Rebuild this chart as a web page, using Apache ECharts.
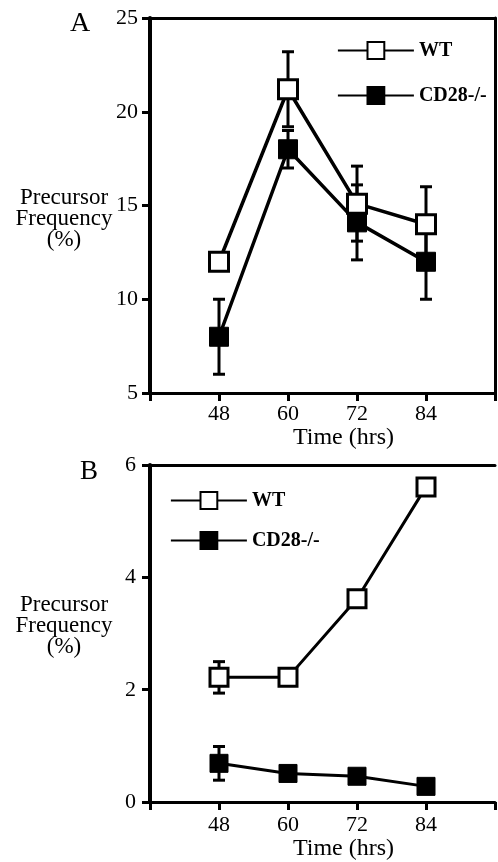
<!DOCTYPE html>
<html>
<head>
<meta charset="utf-8">
<script src="https://cdn.jsdelivr.net/npm/echarts@6/dist/echarts.min.js"></script>
<style>
  html, body { margin: 0; padding: 0; background: #fff; }
  #chart { width: 498px; height: 862px; }
</style>
</head>
<body>
<div id="chart"></div>
<script>
// time points (hrs)
var hours = [48, 60, 72, 84];
var xTicks = [48, 60, 72, 84];

// panel A: precursor frequency (%) with SEM
var wtA = [12.0, 21.2, 15.1, 14.0];
var wtAErr = [0, 2.0, 2.0, 2.0];
var cdA = [8.0, 18.0, 14.1, 12.0];
var cdAErr = [2.0, 1.0, 2.0, 2.0];

// panel B
var wtB = [2.22, 2.22, 3.62, 5.61];
var wtBErr = [0.28, 0, 0, 0];
var cdB = [0.69, 0.51, 0.46, 0.28];
var cdBErr = [0.3, 0, 0, 0];

var FONT = 'Liberation Serif';

function pairs(ys, errs) {
  return hours.map(function (h, i) { return [h, ys[i], errs ? errs[i] : 0]; });
}

// vertical bar with caps, drawn under the squares
function errorBar(params, api) {
  var x = api.value(0), y = api.value(1), e = api.value(2);
  if (!e) return;
  var hi = api.coord([x, y + e]);
  var lo = api.coord([x, y - e]);
  var w = 6;
  var st = { stroke: '#000', lineWidth: 3 };
  return {
    type: 'group',
    children: [
      { type: 'line', shape: { x1: hi[0], y1: hi[1], x2: lo[0], y2: lo[1] }, style: st },
      { type: 'line', shape: { x1: hi[0] - w, y1: hi[1], x2: hi[0] + w, y2: hi[1] }, style: st },
      { type: 'line', shape: { x1: lo[0] - w, y1: lo[1], x2: lo[0] + w, y2: lo[1] }, style: st }
    ]
  };
}

function bottomX(grid, margin, gap) {
  return {
    type: 'value', gridIndex: grid, min: 36, max: 96, interval: 12,
    axisLine: { lineStyle: { color: '#000', width: 3 } },
    axisTick: { length: 8, lineStyle: { color: '#000', width: 3 } },
    splitLine: { show: false },
    axisLabel: {
      margin: margin, fontFamily: FONT, fontSize: 22, color: '#000',
      formatter: function (v) { return xTicks.indexOf(v) >= 0 ? String(v) : ''; }
    },
    name: 'Time (hrs)', nameLocation: 'middle', nameGap: gap,
    nameTextStyle: { fontFamily: FONT, fontSize: 24, color: '#000', padding: [0, 0, 0, 42] }
  };
}

function topX(grid) {
  return {
    type: 'value', gridIndex: grid, position: 'top', min: 36, max: 96,
    axisLine: { lineStyle: { color: '#000', width: 3 } },
    axisTick: { show: false }, axisLabel: { show: false }, splitLine: { show: false }
  };
}

function leftY(grid, min, max, step, margin) {
  return {
    type: 'value', gridIndex: grid, min: min, max: max, interval: step,
    axisLine: { show: true, lineStyle: { color: '#000', width: 4 } },
    axisTick: { show: true, length: 8, lineStyle: { color: '#000', width: 3 } },
    splitLine: { show: false },
    axisLabel: { margin: margin, fontFamily: FONT, fontSize: 22, color: '#000' }
  };
}

var openSq = { color: '#fff', borderColor: '#000', borderWidth: 3 };
var fillSq = { color: '#000', borderColor: '#000', borderWidth: 1 };

function lineSeries(name, ys, xi, yi, itemStyle, width, size) {
  return {
    name: name, type: 'line', xAxisIndex: xi, yAxisIndex: yi, z: 3,
    data: pairs(ys), symbol: 'rect', symbolSize: size, showSymbol: true,
    lineStyle: { color: '#000', width: width }, itemStyle: itemStyle
  };
}

function errSeries(ys, errs, xi, yi) {
  return {
    type: 'custom', xAxisIndex: xi, yAxisIndex: yi, z: 1,
    data: pairs(ys, errs), encode: { x: 0, y: 1 }, renderItem: errorBar
  };
}

var legendText = { fontFamily: FONT, fontSize: 20, fontWeight: 'bold', color: '#000', lineHeight: 21 };

var option = {
  animation: false,
  backgroundColor: '#fff',
  grid: [
    { left: 150, top: 18, width: 347, height: 375 },
    { left: 150, top: 465, width: 347, height: 338 }
  ],
  xAxis: [bottomX(0, 10, 26), topX(0), bottomX(1, 12, 31), topX(1)],
  yAxis: [
    leftY(0, 5, 25, 5, 12),
    {
      type: 'value', gridIndex: 0, position: 'right', min: 5, max: 25,
      axisLine: { show: true, lineStyle: { color: '#000', width: 3 } },
      axisTick: { show: false }, axisLabel: { show: false }, splitLine: { show: false }
    },
    leftY(1, 0, 6, 2, 14)
  ],
  legend: [
    {
      orient: 'vertical', left: 332, top: 35, itemWidth: 76, itemHeight: 21, itemGap: 24,
      data: ['WT', 'CD28-/-'], textStyle: legendText, selectedMode: false,
      lineStyle: { width: 1.8 }
    },
    {
      orient: 'vertical', left: 165, top: 485, itemWidth: 76, itemHeight: 21, itemGap: 19,
      data: ['WT', 'CD28-/-'], textStyle: legendText, selectedMode: false,
      lineStyle: { width: 1.8 }
    }
  ],
  graphic: [
    { type: 'text', left: 70, top: 10, style: { text: 'A', fontFamily: FONT, fontSize: 28, fill: '#000' } },
    { type: 'text', left: 80, top: 458, style: { text: 'B', fontFamily: FONT, fontSize: 27, fill: '#000' } },
    {
      type: 'text', x: 64, y: 187, style: {
        text: 'Precursor\nFrequency\n(%)', fontFamily: FONT, fontSize: 23, lineHeight: 21,
        fill: '#000', align: 'center', verticalAlign: 'top'
      }
    },
    {
      type: 'text', x: 64, y: 594, style: {
        text: 'Precursor\nFrequency\n(%)', fontFamily: FONT, fontSize: 23, lineHeight: 21,
        fill: '#000', align: 'center', verticalAlign: 'top'
      }
    }
  ],
  series: [
    errSeries(wtA, wtAErr, 0, 0),
    errSeries(cdA, cdAErr, 0, 0),
    lineSeries('WT', wtA, 0, 0, openSq, 3.5, 19),
    lineSeries('CD28-/-', cdA, 0, 0, fillSq, 3.5, 19),
    errSeries(wtB, wtBErr, 2, 2),
    errSeries(cdB, cdBErr, 2, 2),
    lineSeries('WT', wtB, 2, 2, openSq, 3, 18),
    lineSeries('CD28-/-', cdB, 2, 2, fillSq, 3, 18)
  ]
};

var myChart = echarts.init(document.getElementById('chart'));
myChart.setOption(option);
</script>
</body>
</html>
